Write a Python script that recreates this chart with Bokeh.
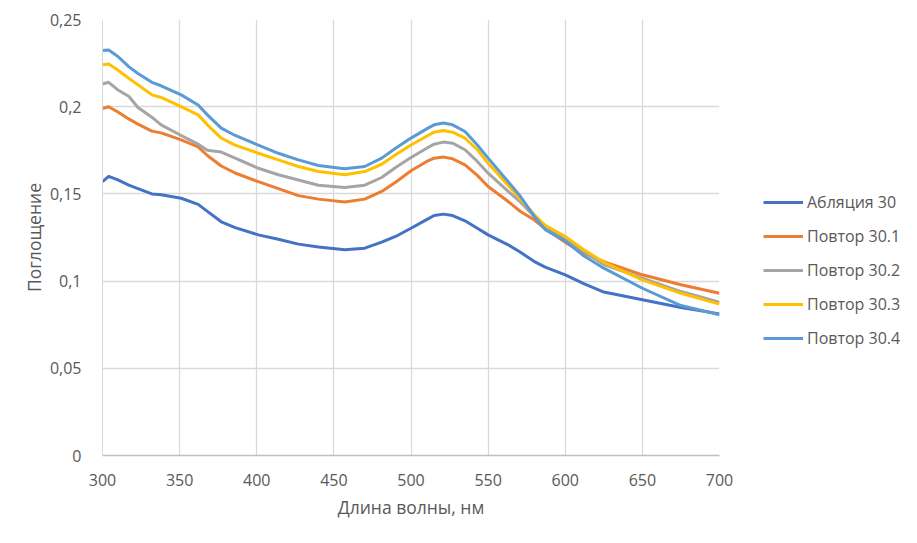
from bokeh.plotting import figure
from bokeh.models import (Range1d, FixedTicker, CustomJSTickFormatter, Legend, LegendItem)
from bokeh.embed import file_html
from bokeh.resources import INLINE

wavelength = [300, 304, 310, 317, 323, 332, 338, 351, 362, 368, 377, 386, 401, 414, 427, 440,
              457, 470, 481, 490, 500, 511, 515, 521, 527, 535, 543, 550, 563, 571, 580, 587,
              600, 612, 625, 650, 675, 700]

ablation_30 = [0.157, 0.160, 0.158, 0.155, 0.153, 0.150, 0.1495, 0.1475, 0.144, 0.140, 0.134,
               0.1307, 0.1265, 0.124, 0.1212, 0.1195, 0.118, 0.1189,
               0.1223, 0.1256, 0.1303, 0.1357, 0.1376, 0.1384, 0.1376, 0.1346, 0.1303, 0.1265,
               0.1208, 0.1165, 0.1112, 0.108, 0.1036, 0.0985, 0.0937, 0.0893, 0.0849, 0.0812]

repeat_30_1 = [0.199, 0.200, 0.197, 0.193, 0.190, 0.186, 0.185, 0.181, 0.177, 0.172, 0.166,
               0.162, 0.157, 0.153, 0.149, 0.147, 0.1453, 0.147,
               0.1514, 0.1567, 0.1633, 0.169, 0.1705, 0.1711, 0.1701, 0.1667, 0.1606, 0.1542,
               0.1456, 0.1399, 0.135, 0.130, 0.1222, 0.116, 0.1112, 0.1036, 0.0979, 0.093]

repeat_30_2 = [0.213, 0.214, 0.2096, 0.206, 0.1995, 0.194, 0.1896, 0.1835, 0.1785, 0.175, 0.174,
               0.1705, 0.1647, 0.161, 0.158, 0.155, 0.1537, 0.155,
               0.1594, 0.1651, 0.1709, 0.1766, 0.1785, 0.1797, 0.1791, 0.1753, 0.1686, 0.1619,
               0.1514, 0.1453, 0.137, 0.131, 0.1245, 0.117, 0.1095, 0.1017, 0.094, 0.0879]

repeat_30_3 = [0.224, 0.2245, 0.221, 0.2163, 0.2125, 0.2068, 0.2053, 0.200, 0.1953, 0.1896, 0.182,
               0.178, 0.1733, 0.1695, 0.1657, 0.1628, 0.161, 0.1628,
               0.167, 0.1724, 0.178, 0.1835, 0.1854, 0.1863, 0.1854, 0.182, 0.1753, 0.1676,
               0.1548, 0.147, 0.138, 0.132, 0.1256, 0.118, 0.1108, 0.1007, 0.093, 0.0868]

repeat_30_4 = [0.2322, 0.2325, 0.2288, 0.223, 0.219, 0.214, 0.212, 0.2068, 0.201, 0.1953, 0.1877,
               0.1835, 0.178, 0.1733, 0.1695, 0.1663, 0.1644, 0.1657,
               0.1705, 0.1762, 0.182, 0.1877, 0.1896, 0.1906, 0.1896, 0.1858, 0.178, 0.1705,
               0.157, 0.1485, 0.137, 0.1295, 0.123, 0.1145, 0.1074, 0.0959, 0.086, 0.0807]

series_names = ["Абляция 30", "Повтор 30.1", "Повтор 30.2", "Повтор 30.3", "Повтор 30.4"]
series_values = [ablation_30, repeat_30_1, repeat_30_2, repeat_30_3, repeat_30_4]
series_colors = ["#4472C4", "#ED7D31", "#A5A5A5", "#FFC000", "#5B9BD5"]

x_ticks = [300, 350, 400, 450, 500, 550, 600, 650, 700]
y_ticks = [0, 0.05, 0.1, 0.15, 0.2, 0.25]

FONT = "Open Sans"
TXT = "#595959"

p = figure(frame_width=617, frame_height=436, output_backend="svg", toolbar_location=None,
           x_range=Range1d(300, 700), y_range=Range1d(0, 0.25),
           min_border_left=102, min_border_right=0, min_border_top=19, min_border_bottom=72)
p.outline_line_color = None

renderers = []
for name, vals, col in zip(series_names, series_values, series_colors):
    r = p.line(wavelength, vals, line_color=col, line_width=3, line_join="round")
    renderers.append((name, r))

p.xaxis.ticker = FixedTicker(ticks=x_ticks)
p.yaxis.ticker = FixedTicker(ticks=y_ticks)
p.yaxis.formatter = CustomJSTickFormatter(code="return String(Math.round(tick*100)/100).replace('.', ',');")

for ax in (p.xaxis[0], p.yaxis[0]):
    ax.major_tick_line_color = None
    ax.minor_tick_line_color = None
    ax.major_label_text_font = FONT
    ax.major_label_text_font_size = "16px"
    ax.major_label_text_color = TXT
    ax.axis_label_text_font = FONT
    ax.axis_label_text_font_size = "17.5px"
    ax.axis_label_text_color = TXT
    ax.axis_label_text_font_style = "normal"

p.xaxis.axis_line_color = "#BFBFBF"
p.xaxis.axis_line_width = 1.5
p.yaxis.axis_line_color = "#D9D9D9"
p.xaxis.major_label_standoff = 12
p.yaxis.major_label_standoff = 15
p.xaxis.axis_label = "Длина волны, нм"
p.yaxis.axis_label = "Поглощение"
p.xaxis.axis_label_standoff = 6
p.yaxis.axis_label_standoff = 1

p.xgrid.grid_line_color = "#D9D9D9"
p.ygrid.grid_line_color = "#D9D9D9"
p.xgrid.grid_line_width = 1.3
p.ygrid.grid_line_width = 1.3

legend = Legend(items=[LegendItem(label=n, renderers=[r]) for n, r in renderers],
                location=(44, 106), orientation="vertical",
                glyph_width=40, glyph_height=20, label_height=20, spacing=12,
                label_standoff=4, padding=0, margin=0,
                label_text_font=FONT, label_text_font_size="16px", label_text_color=TXT,
                background_fill_alpha=0, border_line_alpha=0)
p.add_layout(legend, "right")

open("out.html", "w").write(file_html(p, INLINE))
